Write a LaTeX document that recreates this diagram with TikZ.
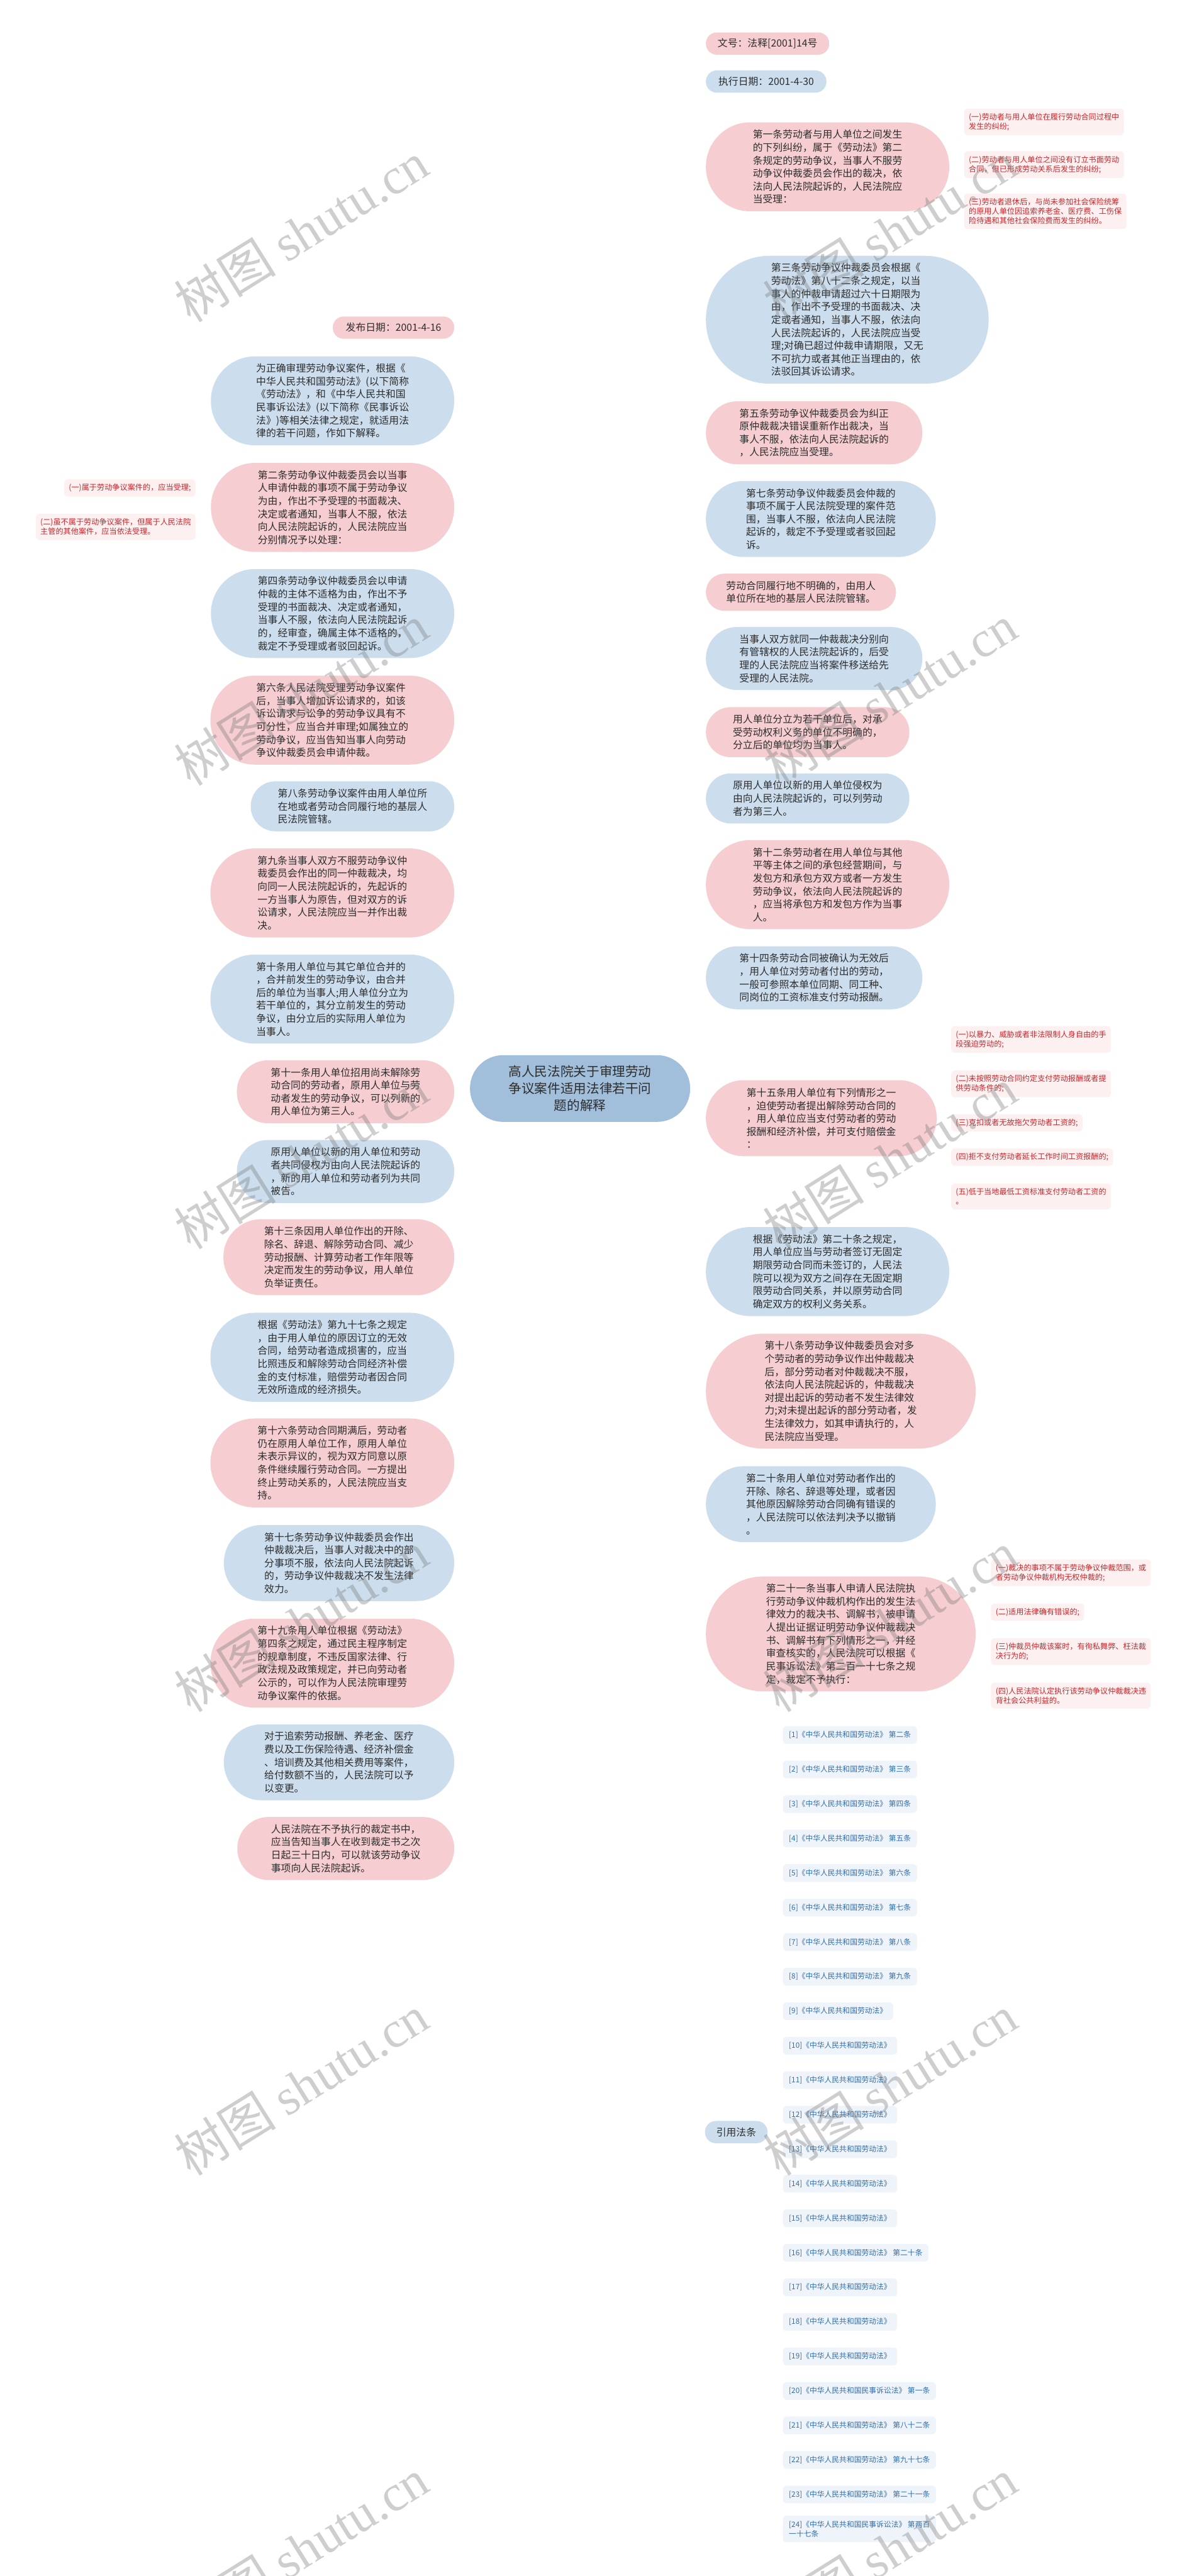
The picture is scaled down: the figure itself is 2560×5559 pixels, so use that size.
\documentclass[tikz,border=0pt]{standalone}
\usepackage{fontspec}
\setmainfont{Noto Sans CJK SC}
\newfontfamily\wmlat{Liberation Serif}
\usetikzlibrary{calc,backgrounds}
\definecolor{pinkf}{RGB}{246,206,209}
\definecolor{bluef}{RGB}{204,222,238}
\definecolor{rootf}{RGB}{161,190,219}
\definecolor{pinkl}{RGB}{241,190,195}
\definecolor{bluel}{RGB}{186,207,229}
\definecolor{txtc}{RGB}{45,45,45}
\definecolor{leaff}{RGB}{253,240,241}
\definecolor{leaft}{RGB}{200,38,42}
\definecolor{reff}{RGB}{239,244,250}
\definecolor{reft}{RGB}{47,110,175}
\definecolor{wmc}{RGB}{120,120,120}
\newcommand\fm{\fontsize{21.5}{28}\selectfont}
\newcommand\frt{\fontsize{28}{37}\selectfont}
\newcommand\fl{\fontsize{16.5}{20.5}\selectfont}
\newcommand\frf{\fontsize{16}{20.5}\selectfont}
\newcommand\fwm{\fontsize{110}{110}\selectfont}
\newcommand\mnode[7]{\pgfmathsetmacro\rr{#6/2-0.5}\node[#1,minimum width=#5pt,minimum height=#6pt,rounded corners=\rr pt] (#2) at (#3,#4) {#7};}
\tikzset{
  mbase/.style={font=\fm, text=txtc, align=left, inner sep=0pt},
  pk/.style={mbase, fill=pinkf},
  bl/.style={mbase, fill=bluef},
  rootst/.style={font=\frt, text=txtc, align=center, fill=rootf, inner sep=0pt, minimum width=475pt, minimum height=144pt, rounded corners=71.5pt},
  lf/.style={font=\fl, text=leaft, fill=leaff, align=left, rounded corners=8pt, inner xsep=10pt, inner ysep=10pt},
  rf/.style={font=\frf, text=reft, fill=reff, align=left, rounded corners=8pt, inner xsep=13pt, inner ysep=11pt, anchor=west},
  pl/.style={draw=pinkl, line width=2.3pt},
  bll/.style={draw=bluel, line width=2.3pt},
  plt/.style={draw=pinkl, line width=1.8pt},
  bllt/.style={draw=bluel, line width=1.8pt},
  wm/.style={font=\fwm, text=wmc, text opacity=0.36, rotate=32, inner sep=0pt}
}
\begin{document}
\begin{tikzpicture}[x=1pt,y=-1pt]
\useasboundingbox (0,0) rectangle (2560,5559);
\fill[white] (0,0) rectangle (2560,5559);

% root
\node[rootst] (root) at (1251.5,2349) {高人民法院关于审理劳动\\争议案件适用法律若干问\\题的解释};

% right side
\mnode{pk}{R1}{1656}{94}{266}{48}{文号：法释[2001]14号}
\mnode{bl}{R2}{1653}{176}{260}{48}{执行日期：2001-4-30}
\mnode{pk}{R3}{1785.5}{360}{525}{192}{第一条劳动者与用人单位之间发生\\的下列纠纷，属于《劳动法》第二\\条规定的劳动争议，当事人不服劳\\动争议仲裁委员会作出的裁决，依\\法向人民法院起诉的，人民法院应\\当受理：}
\mnode{bl}{R4}{1828}{690}{610}{276}{第三条劳动争议仲裁委员会根据《\\劳动法》第八十二条之规定，以当\\事人的仲裁申请超过六十日期限为\\由，作出不予受理的书面裁决、决\\定或者通知，当事人不服，依法向\\人民法院起诉的，人民法院应当受\\理;对确已超过仲裁申请期限，又无\\不可抗力或者其他正当理由的，依\\法驳回其诉讼请求。}
\mnode{pk}{R5}{1756.5}{934}{467}{136}{第五条劳动争议仲裁委员会为纠正\\原仲裁裁决错误重新作出裁决，当\\事人不服，依法向人民法院起诉的\\，人民法院应当受理。}
\mnode{bl}{R6}{1771}{1120}{496}{164}{第七条劳动争议仲裁委员会仲裁的\\事项不属于人民法院受理的案件范\\围，当事人不服，依法向人民法院\\起诉的，裁定不予受理或者驳回起\\诉。}
\mnode{pk}{R7}{1728}{1278}{410}{80}{劳动合同履行地不明确的，由用人\\单位所在地的基层人民法院管辖。}
\mnode{bl}{R8}{1756.5}{1421}{467}{136}{当事人双方就同一仲裁裁决分别向\\有管辖权的人民法院起诉的，后受\\理的人民法院应当将案件移送给先\\受理的人民法院。}
\mnode{pk}{R9}{1742.5}{1580}{439}{108}{用人单位分立为若干单位后，对承\\受劳动权利义务的单位不明确的，\\分立后的单位均为当事人。}
\mnode{bl}{R10}{1742.5}{1723}{439}{108}{原用人单位以新的用人单位侵权为\\由向人民法院起诉的，可以列劳动\\者为第三人。}
\mnode{pk}{R11}{1785.5}{1909}{525}{192}{第十二条劳动者在用人单位与其他\\平等主体之间的承包经营期间，与\\发包方和承包方双方或者一方发生\\劳动争议，依法向人民法院起诉的\\，应当将承包方和发包方作为当事\\人。}
\mnode{bl}{R12}{1756.5}{2110}{467}{136}{第十四条劳动合同被确认为无效后\\，用人单位对劳动者付出的劳动，\\一般可参照本单位同期、同工种、\\同岗位的工资标准支付劳动报酬。}
\mnode{pk}{R13}{1772}{2413}{498}{164}{第十五条用人单位有下列情形之一\\，迫使劳动者提出解除劳动合同的\\，用人单位应当支付劳动者的劳动\\报酬和经济补偿，并可支付赔偿金\\：}
\mnode{bl}{R14}{1785.5}{2744}{525}{192}{根据《劳动法》第二十条之规定，\\用人单位应当与劳动者签订无固定\\期限劳动合同而未签订的，人民法\\院可以视为双方之间存在无固定期\\限劳动合同关系，并以原劳动合同\\确定双方的权利义务关系。}
\mnode{pk}{R15}{1814}{3002}{582}{248}{第十八条劳动争议仲裁委员会对多\\个劳动者的劳动争议作出仲裁裁决\\后，部分劳动者对仲裁裁决不服，\\依法向人民法院起诉的，仲裁裁决\\对提出起诉的劳动者不发生法律效\\力;对未提出起诉的部分劳动者，发\\生法律效力，如其申请执行的，人\\民法院应当受理。}
\mnode{bl}{R16}{1771}{3246}{496}{164}{第二十条用人单位对劳动者作出的\\开除、除名、辞退等处理，或者因\\其他原因解除劳动合同确有错误的\\，人民法院可以依法判决予以撤销\\。}
\mnode{pk}{R17}{1814}{3526}{582}{248}{第二十一条当事人申请人民法院执\\行劳动争议仲裁机构作出的发生法\\律效力的裁决书、调解书，被申请\\人提出证据证明劳动争议仲裁裁决\\书、调解书有下列情形之一，并经\\审查核实的，人民法院可以根据《\\民事诉讼法》第二百一十七条之规\\定，裁定不予执行：}
\mnode{bl}{R18}{1588.5}{4601}{135}{48}{引用法条}

% left side
\mnode{pk}{L1}{849}{707}{262}{48}{发布日期：2001-4-16}
\mnode{bl}{L2}{717.5}{865}{525}{192}{为正确审理劳动争议案件，根据《\\中华人民共和国劳动法》(以下简称\\《劳动法》，和《中华人民共和国\\民事诉讼法》(以下简称《民事诉讼\\法》)等相关法律之规定，就适用法\\律的若干问题，作如下解释。}
\mnode{pk}{L3}{717.5}{1095}{525}{192}{第二条劳动争议仲裁委员会以当事\\人申请仲裁的事项不属于劳动争议\\为由，作出不予受理的书面裁决、\\决定或者通知，当事人不服，依法\\向人民法院起诉的，人民法院应当\\分别情况予以处理：}
\mnode{bl}{L4}{717.5}{1324}{525}{192}{第四条劳动争议仲裁委员会以申请\\仲裁的主体不适格为由，作出不予\\受理的书面裁决、决定或者通知，\\当事人不服，依法向人民法院起诉\\的，经审查，确属主体不适格的，\\裁定不予受理或者驳回起诉。}
\mnode{pk}{L5}{717}{1554}{526}{192}{第六条人民法院受理劳动争议案件\\后，当事人增加诉讼请求的，如该\\诉讼请求与讼争的劳动争议具有不\\可分性，应当合并审理;如属独立的\\劳动争议，应当告知当事人向劳动\\争议仲裁委员会申请仲裁。}
\mnode{bl}{L6}{760.5}{1740}{439}{108}{第八条劳动争议案件由用人单位所\\在地或者劳动合同履行地的基层人\\民法院管辖。}
\mnode{pk}{L7}{717}{1927}{526}{192}{第九条当事人双方不服劳动争议仲\\裁委员会作出的同一仲裁裁决，均\\向同一人民法院起诉的，先起诉的\\一方当事人为原告，但对双方的诉\\讼请求，人民法院应当一并作出裁\\决。}
\mnode{bl}{L8}{717}{2156}{526}{192}{第十条用人单位与其它单位合并的\\，合并前发生的劳动争议，由合并\\后的单位为当事人;用人单位分立为\\若干单位的，其分立前发生的劳动\\争议，由分立后的实际用人单位为\\当事人。}
\mnode{pk}{L9}{745.5}{2356}{469}{136}{第十一条用人单位招用尚未解除劳\\动合同的劳动者，原用人单位与劳\\动者发生的劳动争议，可以列新的\\用人单位为第三人。}
\mnode{bl}{L10}{745.5}{2528}{469}{136}{原用人单位以新的用人单位和劳动\\者共同侵权为由向人民法院起诉的\\，新的用人单位和劳动者列为共同\\被告。}
\mnode{pk}{L11}{731}{2713}{498}{164}{第十三条因用人单位作出的开除、\\除名、辞退、解除劳动合同、减少\\劳动报酬、计算劳动者工作年限等\\决定而发生的劳动争议，用人单位\\负举证责任。}
\mnode{bl}{L12}{717}{2929}{526}{192}{根据《劳动法》第九十七条之规定\\，由于用人单位的原因订立的无效\\合同，给劳动者造成损害的，应当\\比照违反和解除劳动合同经济补偿\\金的支付标准，赔偿劳动者因合同\\无效所造成的经济损失。}
\mnode{pk}{L13}{717}{3157}{526}{192}{第十六条劳动合同期满后，劳动者\\仍在原用人单位工作，原用人单位\\未表示异议的，视为双方同意以原\\条件继续履行劳动合同。一方提出\\终止劳动关系的，人民法院应当支\\持。}
\mnode{bl}{L14}{731.5}{3373}{497}{164}{第十七条劳动争议仲裁委员会作出\\仲裁裁决后，当事人对裁决中的部\\分事项不服，依法向人民法院起诉\\的，劳动争议仲裁裁决不发生法律\\效力。}
\mnode{pk}{L15}{717}{3589}{526}{192}{第十九条用人单位根据《劳动法》\\第四条之规定，通过民主程序制定\\的规章制度，不违反国家法律、行\\政法规及政策规定，并已向劳动者\\公示的，可以作为人民法院审理劳\\动争议案件的依据。}
\mnode{bl}{L16}{731.5}{3803}{497}{164}{对于追索劳动报酬、养老金、医疗\\费以及工伤保险待遇、经济补偿金\\、培训费及其他相关费用等案件，\\给付数额不当的，人民法院可以予\\以变更。}
\mnode{pk}{L17}{746}{3989}{468}{136}{人民法院在不予执行的裁定书中，\\应当告知当事人在收到裁定书之次\\日起三十日内，可以就该劳动争议\\事项向人民法院起诉。}

% leaves of R3
\node[lf,anchor=west] (a1) at (2080,263) {(一)劳动者与用人单位在履行劳动合同过程中\\发生的纠纷;};
\node[lf,anchor=west] (a2) at (2080,355) {(二)劳动者与用人单位之间没有订立书面劳动\\合同，但已形成劳动关系后发生的纠纷;};
\node[lf,anchor=west] (a3) at (2080,456) {(三)劳动者退休后，与尚未参加社会保险统筹\\的原用人单位因追索养老金、医疗费、工伤保\\险待遇和其他社会保险费而发生的纠纷。};
% leaves of R13
\node[lf,anchor=west] (b1) at (2052,2243) {(一)以暴力、威胁或者非法限制人身自由的手\\段强迫劳动的;};
\node[lf,anchor=west] (b2) at (2052,2339) {(二)未按照劳动合同约定支付劳动报酬或者提\\供劳动条件的;};
\node[lf,anchor=west] (b3) at (2052,2423) {(三)克扣或者无故拖欠劳动者工资的;};
\node[lf,anchor=west] (b4) at (2052,2497) {(四)拒不支付劳动者延长工作时间工资报酬的;};
\node[lf,anchor=west] (b5) at (2052,2582) {(五)低于当地最低工资标准支付劳动者工资的\\。};
% leaves of R17
\node[lf,anchor=west] (c1) at (2138,3394) {(一)裁决的事项不属于劳动争议仲裁范围，或\\者劳动争议仲裁机构无权仲裁的;};
\node[lf,anchor=west] (c2) at (2138,3479) {(二)适用法律确有错误的;};
\node[lf,anchor=west] (c3) at (2138,3564) {(三)仲裁员仲裁该案时，有徇私舞弊、枉法裁\\决行为的;};
\node[lf,anchor=west] (c4) at (2138,3659) {(四)人民法院认定执行该劳动争议仲裁裁决违\\背社会公共利益的。};
% leaves of L3
\node[lf,anchor=east] (d1) at (422,1053) {(一)属于劳动争议案件的，应当受理;};
\node[lf,anchor=east] (d2) at (422,1137) {(二)虽不属于劳动争议案件，但属于人民法院\\主管的其他案件，应当依法受理。};

% references
\node[rf] (f1) at (1689,3744) {[1]《中华人民共和国劳动法》 第二条};
\node[rf] (f2) at (1689,3818.5) {[2]《中华人民共和国劳动法》 第三条};
\node[rf] (f3) at (1689,3893) {[3]《中华人民共和国劳动法》 第四条};
\node[rf] (f4) at (1689,3967.5) {[4]《中华人民共和国劳动法》 第五条};
\node[rf] (f5) at (1689,4042) {[5]《中华人民共和国劳动法》 第六条};
\node[rf] (f6) at (1689,4116.5) {[6]《中华人民共和国劳动法》 第七条};
\node[rf] (f7) at (1689,4191) {[7]《中华人民共和国劳动法》 第八条};
\node[rf] (f8) at (1689,4265.5) {[8]《中华人民共和国劳动法》 第九条};
\node[rf] (f9) at (1689,4340) {[9]《中华人民共和国劳动法》};
\node[rf] (f10) at (1689,4414.5) {[10]《中华人民共和国劳动法》};
\node[rf] (f11) at (1689,4489) {[11]《中华人民共和国劳动法》};
\node[rf] (f12) at (1689,4563.5) {[12]《中华人民共和国劳动法》};
\node[rf] (f13) at (1689,4638) {[13]《中华人民共和国劳动法》};
\node[rf] (f14) at (1689,4712.5) {[14]《中华人民共和国劳动法》};
\node[rf] (f15) at (1689,4787) {[15]《中华人民共和国劳动法》};
\node[rf] (f16) at (1689,4861.5) {[16]《中华人民共和国劳动法》 第二十条};
\node[rf] (f17) at (1689,4936) {[17]《中华人民共和国劳动法》};
\node[rf] (f18) at (1689,5010.5) {[18]《中华人民共和国劳动法》};
\node[rf] (f19) at (1689,5085) {[19]《中华人民共和国劳动法》};
\node[rf] (f20) at (1689,5159.5) {[20]《中华人民共和国民事诉讼法》 第一条};
\node[rf] (f21) at (1689,5234) {[21]《中华人民共和国劳动法》 第八十二条};
\node[rf] (f22) at (1689,5308.5) {[22]《中华人民共和国劳动法》 第九十七条};
\node[rf] (f23) at (1689,5383) {[23]《中华人民共和国劳动法》 第二十一条};
\node[rf] (f24) at (1689,5457.5) {[24]《中华人民共和国民事诉讼法》 第两百\\一十七条};

% spine coordinates
\coordinate (sR3) at ($(R3.east)+(16,0)$);
\coordinate (sR13) at ($(R13.east)+(16,0)$);
\coordinate (sR17) at ($(R17.east)+(17,0)$);
\coordinate (sL3) at ($(L3.west)+(-17,0)$);
\coordinate (sR18) at ($(R18.east)+(19,0)$);

\begin{pgfonlayer}{background}
% root to right nodes
\foreach \n/\s in {R1/pl,R2/bll,R3/pl,R4/bll,R5/pl,R6/bll,R7/pl,R8/bll,R9/pl,R10/bll,R11/pl,R12/bll,R13/pl,R14/bll,R15/pl,R16/bll,R17/pl,R18/bll}
  \draw[\s] (root.center) .. controls (root.center |- \n.west) .. (\n.west);
% root to left nodes
\foreach \n/\s in {L1/pl,L2/bll,L3/pl,L4/bll,L5/pl,L6/bll,L7/pl,L8/bll,L9/pl,L10/bll,L11/pl,L12/bll,L13/pl,L14/bll,L15/pl,L16/bll,L17/pl}
  \draw[\s] (root.center) .. controls (root.center |- \n.east) .. (\n.east);
% leaves
\foreach \n in {a1,a2,a3}
  \draw[plt] (R3.east) -- (sR3) .. controls (sR3 |- \n.west) .. (\n.west);
\foreach \n in {b1,b2,b3,b4,b5}
  \draw[plt] (R13.east) -- (sR13) .. controls (sR13 |- \n.west) .. (\n.west);
\foreach \n in {c1,c2,c3,c4}
  \draw[plt] (R17.east) -- (sR17) .. controls (sR17 |- \n.west) .. (\n.west);
\foreach \n in {d1,d2}
  \draw[plt] (L3.west) -- (sL3) .. controls (sL3 |- \n.east) .. (\n.east);
\foreach \n in {f1,f2,f3,f4,f5,f6,f7,f8,f9,f10,f11,f12,f13,f14,f15,f16,f17,f18,f19,f20,f21,f22,f23,f24}
  \draw[bllt] (R18.east) -- (sR18) .. controls (sR18 |- \n.west) .. (\n.west);
\end{pgfonlayer}

% watermarks
\foreach \wx in {650,1920}
  \foreach \wy in {500,1500,2500,3500,4500,5500}
    \node[wm] (wm-\wx-\wy) at (\wx,\wy) {树图 {\wmlat shutu.cn}};
\end{tikzpicture}
\end{document}
